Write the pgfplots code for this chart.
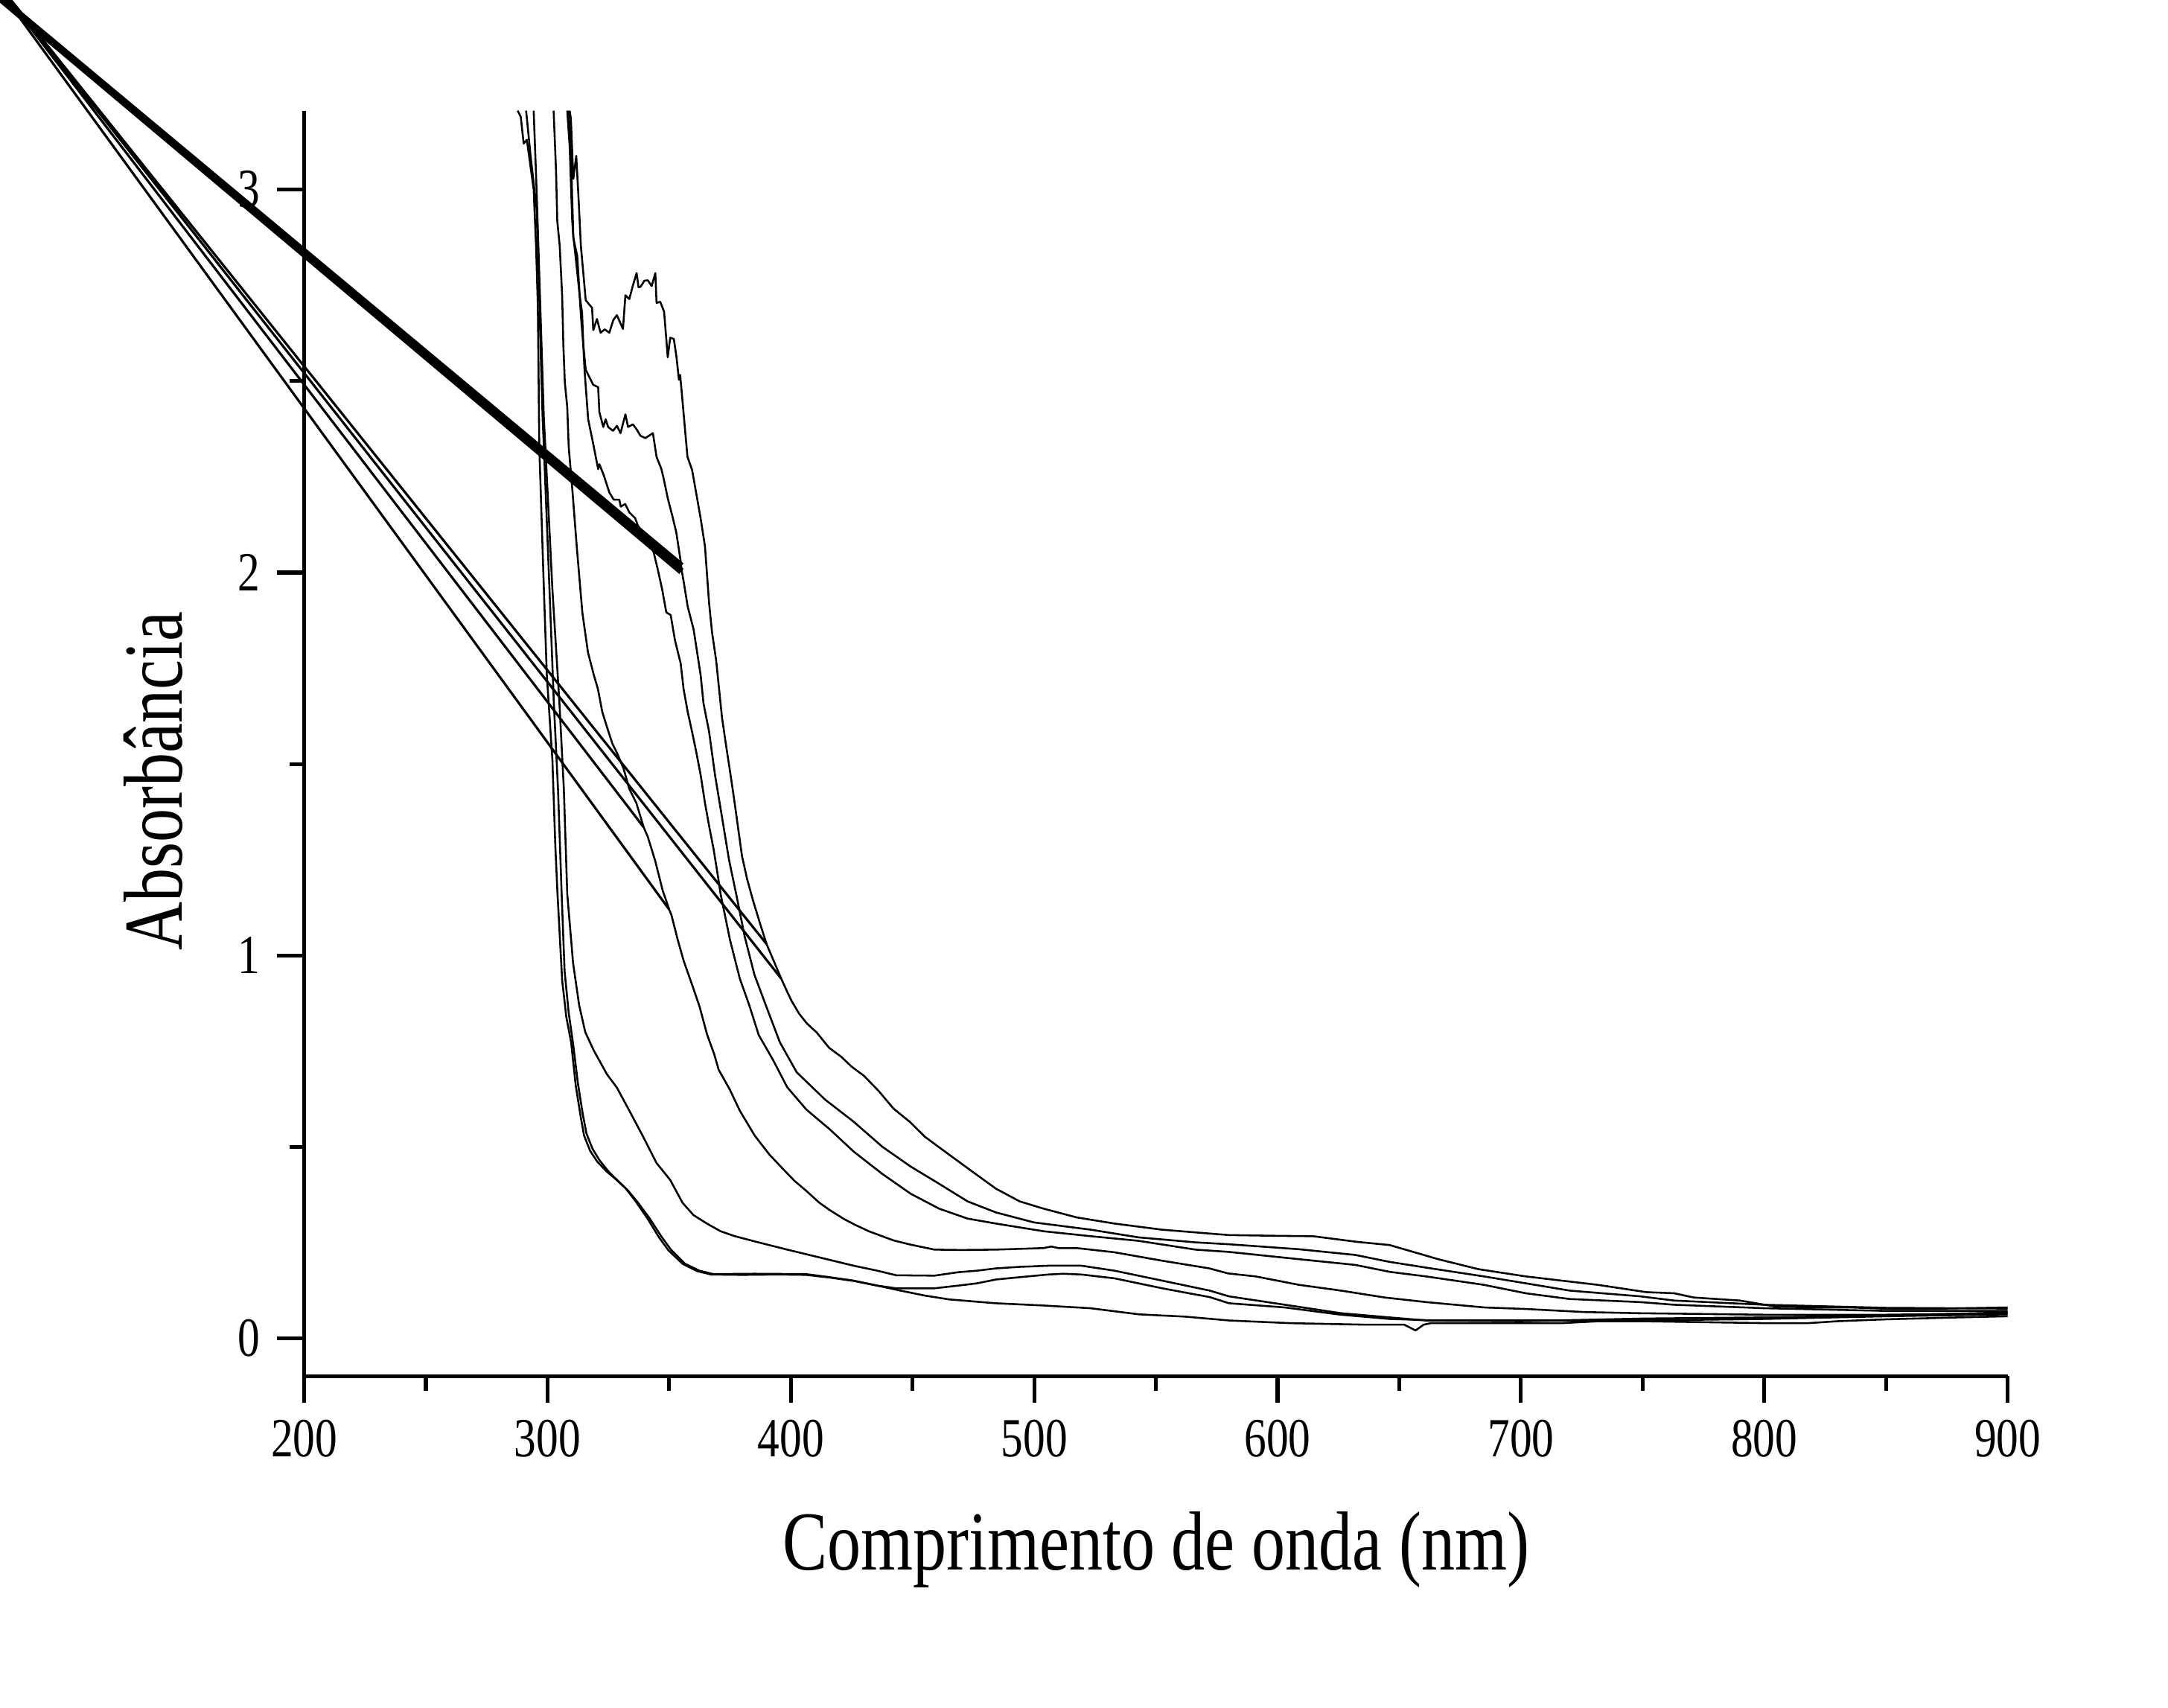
\documentclass[border=0pt]{standalone}
\usepackage{fontspec}
\setmainfont{Liberation Serif}[FakeStretch=0.8]
\usepackage{pgfplots}
\pgfplotsset{compat=1.18}

\begin{document}
\begin{tikzpicture}
\begin{axis}[
    scale only axis,
    width=12.571cm, height=9.337cm,
    xmin=200, xmax=900, ymin=-0.098, ymax=3.206,
    axis lines*=left,
    axis line style={line width=0.8pt},
    tick align=outside,
    major tick length=0.2cm, minor tick length=0.11cm,
    every tick/.style={line width=0.8pt, black},
    xtick={200,300,...,900}, ytick={0,1,2,3},
    minor x tick num=1, minor y tick num=1,
    clip=false,
    unbounded coords=jump,
    /pgf/number format/assume math mode=true,
    tick label style={font=\fontsize{11.6}{13}\selectfont},
    label style={font=\fontsize{17.6}{20}\selectfont},
    xlabel={Comprimento de onda (nm)},
    ylabel={Absorbância},
    xlabel style={at={(axis description cs:0.5,-0.1532)}, anchor=base},
    ylabel style={at={(axis description cs:-0.0716,0.47)}, anchor=base},
    cycle list={{black, solid, mark=none}},
    every axis plot/.append style={line width=0.4pt, line join=round},
]
% curve 1 (lowest at long wavelengths)
\addplot coordinates {
(287.7,3.206) (289.0,3.190) (290.2,3.120) (291.5,3.130) (292.8,3.070) (294.3,3.000)
(295.3,2.850) (296.0,2.700) (296.3,2.530) (296.6,2.330) (298.5,1.956) (299.7,1.733)
(302.0,1.510) (303.2,1.286) (304.1,1.161) (306.0,0.936) (307.7,0.840) (309.7,0.773)
(311.6,0.660) (313.6,0.580) (315.0,0.530) (317.5,0.490) (320.4,0.462) (324.3,0.436)
(328.2,0.415) (332.1,0.392) (336.0,0.360) (340.9,0.315) (345.8,0.264) (349.7,0.230)
(355.5,0.195) (361.4,0.176) (367.2,0.167) (380,0.166) (395,0.167) (406.3,0.166)
(416,0.159) (426,0.150) (435.5,0.138) (445,0.125) (455,0.112) (465,0.102) (484,0.092)
(504,0.086) (523,0.079) (543,0.063) (562,0.057) (580,0.047) (605,0.040) (636,0.036)
(652,0.036) (656.7,0.021) (660,0.036) (663,0.040) (690,0.040) (717,0.040) (732,0.045)
(750,0.045) (800,0.040) (818,0.040) (830,0.045) (850,0.050) (880,0.055) (900,0.058)
};
% curve 2 (lower bump)
\addplot coordinates {
(291.2,3.206) (293.0,3.090) (295.5,2.950) (296.5,2.750) (297.3,2.550) (298.0,2.400)
(298.5,2.328) (300.8,1.956) (302.6,1.658) (304.3,1.435) (305.8,1.161) (307.0,0.960)
(308.7,0.850) (310.5,0.770) (312.5,0.665) (314.5,0.585) (316.0,0.535) (318.5,0.495)
(321.4,0.465) (325.3,0.434) (329.2,0.410) (333.1,0.386) (337.0,0.356) (341.9,0.314)
(346.8,0.266) (350.7,0.232) (356.5,0.195) (362.4,0.177) (368.2,0.168) (385,0.169)
(406.3,0.168) (416,0.160) (425.8,0.151) (435.5,0.138) (443.3,0.131) (459,0.131)
(468.7,0.138) (476.5,0.144) (484.3,0.154) (494,0.160) (505.8,0.167) (512,0.169)
(519.4,0.167) (533,0.157) (552.6,0.131) (572.1,0.108) (580,0.092) (603,0.081)
(626,0.062) (646,0.051) (665,0.047) (700,0.047) (750,0.047) (800,0.051) (850,0.058)
(900,0.063)
};
% curve 3 (upper bump)
\addplot coordinates {
(294.3,3.206) (295.5,3.000) (296.5,2.800) (297.5,2.600) (298.5,2.400) (299.1,2.328)
(302.0,1.956) (304.9,1.658) (306.7,1.435) (308.1,1.161) (310.5,0.980) (313.0,0.870)
(315.5,0.800) (319.0,0.752) (324.4,0.690) (328.5,0.655) (333.6,0.595) (339.2,0.528)
(344.8,0.458) (350.4,0.414) (355.5,0.354) (360.0,0.322) (365.5,0.300) (371.1,0.280)
(377.0,0.267) (384.8,0.254) (391.0,0.244) (398.5,0.232) (410.2,0.214) (418.0,0.202)
(425.8,0.190) (435.5,0.177) (443.3,0.165) (459.0,0.164) (468.7,0.173) (476.5,0.177)
(484.3,0.183) (494,0.187) (505.8,0.190) (519.4,0.190) (533.0,0.177) (552.6,0.151)
(572.1,0.125) (580,0.110) (603,0.088) (626,0.066) (646,0.055) (661,0.047) (700,0.045)
(750,0.052) (800,0.055) (850,0.060) (900,0.068)
};
% curve 4 (plateau near 0.23)
\addplot coordinates {
(302.5,3.206) (303.5,3.048) (304.0,2.918) (305.0,2.853) (306.0,2.724) (306.5,2.594)
(307.1,2.497) (308.1,2.432) (308.7,2.328) (310.2,2.216) (312.0,2.068) (314.3,1.896)
(316.6,1.792) (319.0,1.733) (320.7,1.696) (322.5,1.636) (324.3,1.599) (326.6,1.554)
(328.9,1.524) (331.3,1.487) (333.6,1.435) (336.5,1.398) (339.5,1.335) (341.2,1.310)
(344.3,1.246) (347.3,1.170) (350.0,1.120) (350.9,1.106) (353.5,1.041) (356.0,0.985)
(359.6,0.920) (362.5,0.866) (365.5,0.795) (368.5,0.742) (370.3,0.702) (374.9,0.650)
(379.0,0.595) (385.1,0.530) (391.2,0.480) (396.4,0.445) (401.4,0.412) (406.4,0.385)
(411.6,0.355) (416.0,0.335) (421.8,0.312) (426,0.298) (432,0.280) (437.5,0.267)
(442.2,0.256) (449.2,0.245) (459,0.232) (470,0.231) (484.3,0.232) (503.8,0.236)
(507,0.240) (510,0.236) (517.5,0.236) (533,0.225) (552.6,0.203) (572,0.183)
(579.5,0.170) (591,0.162) (608.8,0.140) (626,0.125) (644,0.107) (661,0.095) (685,0.081)
(702,0.077) (726,0.069) (748,0.066) (800,0.062) (850,0.062) (900,0.066)
};
% curve P
\addplot coordinates {
(308.6,3.206) (309.6,3.112) (310.1,2.983) (310.6,2.879) (311.6,2.821) (313.2,2.724)
(314.2,2.678) (314.7,2.594) (315.2,2.529) (316.7,2.400) (318.8,2.335) (320.8,2.270)
(321.3,2.283) (323.1,2.254) (325.4,2.209) (327.2,2.190) (329.5,2.190) (330.1,2.172)
(331.9,2.179) (333.6,2.157) (336.0,2.142) (337.1,2.123) (340.5,2.090) (343.6,2.053)
(345.3,2.008) (347.1,1.956) (348.8,1.896) (350.6,1.889) (352.4,1.822) (354.7,1.763)
(355.9,1.696) (357.6,1.636) (359.4,1.584) (361.1,1.532) (362.9,1.472) (364.7,1.398)
(366.4,1.338) (368.2,1.279) (369.9,1.212) (371.1,1.161) (375.0,1.040) (379.0,0.940)
(382.9,0.870) (386.8,0.792) (392.6,0.728) (398.5,0.656) (406.3,0.598) (416.0,0.546)
(425.8,0.488) (437.5,0.430) (449.2,0.378) (460.9,0.339) (472.6,0.313) (484.3,0.300)
(503.8,0.280) (523.3,0.267) (542.8,0.255) (566.2,0.232) (580,0.226) (608.8,0.207)
(632,0.192) (646,0.174) (661,0.162) (684.8,0.140) (702,0.118) (720,0.103) (749,0.095)
(763,0.088) (800,0.079) (850,0.072) (900,0.072)
};
% curve Q
\addplot coordinates {
(308.1,3.206) (309.1,3.112) (310.1,2.924) (310.6,2.873) (312.2,2.827) (313.7,2.672)
(314.7,2.594) (315.7,2.529) (318.8,2.490) (320.8,2.484) (321.3,2.419) (322.9,2.380)
(323.9,2.400) (324.9,2.380) (326.9,2.370) (328.5,2.383) (330.0,2.364) (332.0,2.413)
(333.1,2.380) (335.1,2.387) (336.6,2.374) (338.2,2.357) (340.2,2.351) (343.3,2.364)
(344.8,2.302) (346.8,2.270) (347.7,2.246) (349.4,2.194) (351.2,2.150) (352.9,2.105)
(354.7,2.030) (355.0,2.010) (355.9,1.978) (357.6,1.911) (360.0,1.852) (361.1,1.807)
(362.9,1.733) (364.1,1.658) (366.4,1.584) (368.8,1.472) (371.7,1.361) (374.6,1.249)
(377.5,1.161) (381.0,1.050) (385.0,0.950) (389.7,0.870) (395.5,0.773) (402.4,0.695)
(414.0,0.624) (425.8,0.566) (437.5,0.501) (449.2,0.449) (460.9,0.404) (472.6,0.358)
(484.3,0.329) (499.9,0.303) (523.3,0.284) (542.8,0.264) (566.2,0.251) (580,0.246)
(608.8,0.233) (632,0.218) (646,0.200) (661,0.185) (684.8,0.162) (702,0.144) (720,0.125)
(749,0.110) (763,0.099) (800,0.088) (850,0.080) (900,0.078)
};
% curve R (top at long wavelengths)
\addplot coordinates {
(309.1,3.206) (309.6,3.184) (310.6,3.028) (311.8,3.088) (312.7,2.983) (313.7,2.853)
(315.7,2.711) (318.3,2.691) (318.8,2.633) (320.3,2.662) (321.8,2.626) (323.5,2.635)
(325.4,2.626) (327.0,2.659) (328.5,2.672) (331.0,2.636) (332.0,2.724) (333.6,2.714)
(335.1,2.750) (336.6,2.782) (337.4,2.745) (338.2,2.746) (339.8,2.762) (341.2,2.763)
(342.8,2.748) (344.3,2.782) (344.8,2.704) (346.3,2.707) (347.9,2.681) (349.4,2.562)
(350.4,2.613) (351.9,2.610) (353.0,2.562) (354.0,2.503) (354.5,2.516) (355.5,2.445)
(357.5,2.302) (359.4,2.268) (362.9,2.142) (364.7,2.068) (366.4,1.919) (367.6,1.844)
(369.3,1.770) (371.7,1.621) (373.4,1.547) (375.2,1.472) (376.9,1.398) (379.9,1.260)
(382.0,1.200) (384.6,1.140) (387.5,1.080) (390.0,1.030) (393.0,0.985) (396.0,0.940)
(398.5,0.905) (400.4,0.880) (403.4,0.848) (406.5,0.823) (410.6,0.799) (415.7,0.759)
(420.8,0.735) (424.9,0.710) (430.0,0.686) (436.1,0.646) (442.2,0.600) (449,0.565)
(455,0.527) (464.8,0.481) (474.5,0.436) (484.3,0.391) (494,0.358) (503.8,0.339)
(517.5,0.316) (533,0.300) (552.6,0.284) (572,0.274) (580,0.270) (600,0.268)
(614.6,0.267) (633,0.252) (646,0.244) (666,0.207) (682.5,0.181) (702,0.162)
(731.6,0.140) (751.5,0.121) (763,0.118) (771,0.107) (790,0.099) (804,0.084)
(818,0.081) (835,0.081) (853,0.077) (865,0.077) (900,0.081)
};
% stray straight segments running off to the upper left
\addplot[black, line width=0.5pt] coordinates {
(60,3.65) (339.5,1.335) (nan,nan)
(60,3.65) (350.0,1.120) (nan,nan)
(60,3.65) (390.0,1.030) (nan,nan)
(60,3.65) (396.0,0.940)
};
\addplot[black, line width=1.4pt] coordinates {
(40,3.686) (355,2.003) (nan,nan)
(40,3.686) (355,2.017)
};
\coordinate (bbSW) at (axis cs:75,-0.964);
\coordinate (bbNE) at (axis cs:965.9,3.495);
\end{axis}
\pgfresetboundingbox
\path[use as bounding box] (bbSW) rectangle (bbNE);
\end{tikzpicture}
\end{document}
